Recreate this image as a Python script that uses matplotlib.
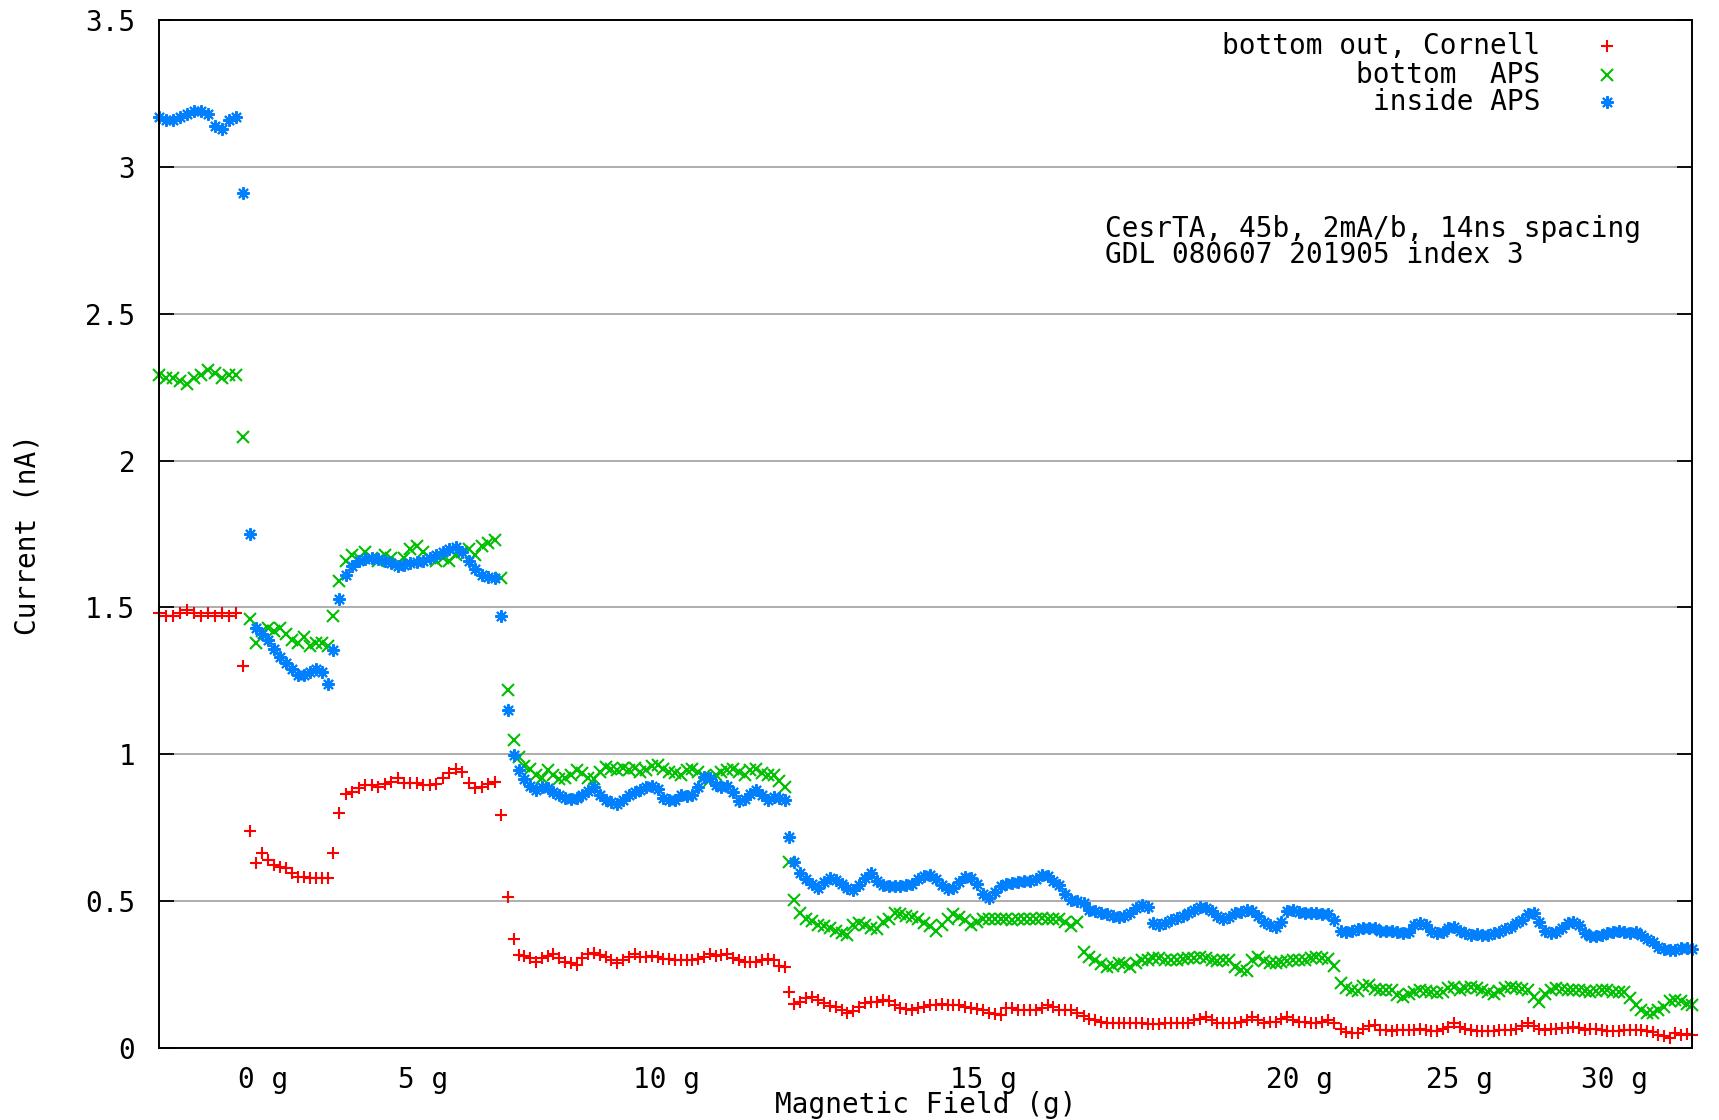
"""
CesrTA RFA currents vs magnetic field scan (gnuplot style remake)
"""

import matplotlib
matplotlib.use('Agg')
import matplotlib.pyplot as plt
import numpy as np

# scan segments, x in % of the scan (start, stop)
seg_start = [0.0, 5.94, 11.34, 23.45, 41.06, 60.30, 77.06]
seg_stop = [5.51, 11.02, 23.15, 40.84, 59.87, 76.62, 100.0]

# bottom out, Cornell
red = [
    [1.48, 1.47, 1.47, 1.48, 1.49, 1.48, 1.47, 1.48, 1.47, 1.48, 1.47, 1.48, 1.30],
    [0.74, 0.63, 0.665, 0.64, 0.623, 0.617, 0.612, 0.595, 0.583, 0.581, 0.578, 0.578, 0.578, 0.578],
    [0.663, 0.80, 0.864, 0.873, 0.884, 0.895, 0.895, 0.890, 0.899, 0.907, 0.918, 0.903, 0.901, 0.903,
     0.895, 0.895, 0.899, 0.918, 0.937, 0.949, 0.941, 0.901, 0.884, 0.890, 0.899, 0.907, 0.793, 0.515, 0.37],
    [0.317, 0.314, 0.306, 0.294, 0.306, 0.313, 0.320, 0.306, 0.294, 0.288, 0.283, 0.306, 0.320, 0.322,
     0.317, 0.309, 0.300, 0.291, 0.300, 0.311, 0.320, 0.311, 0.309, 0.313, 0.309, 0.302, 0.302, 0.300,
     0.300, 0.298, 0.300, 0.302, 0.311, 0.320, 0.313, 0.317, 0.320, 0.306, 0.300, 0.294, 0.294, 0.294,
     0.300, 0.302, 0.300, 0.280, 0.275],
    [0.19, 0.15, 0.158, 0.17, 0.172, 0.162, 0.152, 0.143, 0.138, 0.128, 0.12, 0.125, 0.14, 0.152,
     0.158, 0.158, 0.165, 0.16, 0.147, 0.137, 0.133, 0.13, 0.135, 0.14, 0.147, 0.147, 0.15, 0.148,
     0.147, 0.147, 0.141, 0.137, 0.133, 0.13, 0.12, 0.115, 0.112, 0.135, 0.135, 0.13, 0.13, 0.13,
     0.13, 0.135, 0.147, 0.14, 0.13, 0.13, 0.13, 0.12],
    [0.11, 0.10, 0.095, 0.09, 0.085, 0.084, 0.084, 0.084, 0.084, 0.086, 0.084, 0.08, 0.082, 0.082,
     0.085, 0.084, 0.086, 0.084, 0.086, 0.095, 0.10, 0.107, 0.095, 0.086, 0.084, 0.084, 0.084, 0.09,
     0.095, 0.107, 0.095, 0.084, 0.09, 0.09, 0.10, 0.107, 0.095, 0.09, 0.088, 0.086, 0.084, 0.09,
     0.095, 0.085],
    [0.065, 0.056, 0.05, 0.05, 0.065, 0.075, 0.078,
     0.062, 0.06, 0.058, 0.062, 0.062, 0.062, 0.062, 0.065, 0.06, 0.058, 0.058, 0.065, 0.073, 0.085,
     0.073, 0.065, 0.062, 0.058, 0.058, 0.058, 0.058, 0.062, 0.062, 0.062, 0.065, 0.075, 0.085, 0.075,
     0.065, 0.062, 0.065, 0.065, 0.068, 0.068, 0.073, 0.068, 0.062, 0.065, 0.065, 0.06, 0.058, 0.058,
     0.058, 0.06, 0.062, 0.062, 0.062, 0.058, 0.055, 0.045, 0.04, 0.035, 0.05, 0.045, 0.048, 0.045],
]

# bottom APS
green = [
    [2.29, 2.28, 2.28, 2.27, 2.26, 2.28, 2.29, 2.31, 2.30, 2.28, 2.29, 2.29, 2.08],
    [1.46, 1.38, 1.42, 1.43, 1.42, 1.43, 1.41, 1.39, 1.38, 1.40, 1.37, 1.38, 1.38, 1.37],
    [1.47, 1.59, 1.66, 1.68, 1.67, 1.69, 1.67, 1.66, 1.68, 1.67, 1.65, 1.67, 1.70, 1.71, 1.69,
     1.67, 1.66, 1.67, 1.66, 1.68, 1.69, 1.70, 1.68, 1.71, 1.72, 1.73, 1.60, 1.22, 1.05],
    [0.99, 0.96, 0.95, 0.93, 0.92, 0.946, 0.93, 0.915, 0.918, 0.93, 0.946, 0.935, 0.92, 0.915,
     0.94, 0.958, 0.95, 0.945, 0.955, 0.948, 0.952, 0.94, 0.945, 0.96, 0.963, 0.95, 0.94, 0.935,
     0.93, 0.945, 0.95, 0.94, 0.925, 0.913, 0.93, 0.94, 0.945, 0.95, 0.94, 0.93, 0.945, 0.95,
     0.935, 0.93, 0.93, 0.91, 0.89],
    [0.634, 0.504, 0.459, 0.44, 0.432, 0.42, 0.415, 0.408, 0.40, 0.392, 0.385, 0.42, 0.425, 0.42,
     0.41, 0.405, 0.43, 0.44, 0.459, 0.455, 0.45, 0.445, 0.44, 0.425, 0.415, 0.40, 0.42, 0.44,
     0.455, 0.445, 0.435, 0.42, 0.43, 0.44, 0.44, 0.44, 0.438, 0.44, 0.435, 0.44, 0.44, 0.44,
     0.44, 0.442, 0.44, 0.44, 0.44, 0.43, 0.415, 0.43],
    [0.328, 0.311, 0.30, 0.285, 0.277, 0.28, 0.29, 0.285, 0.277, 0.29, 0.30, 0.30, 0.305, 0.306,
     0.30, 0.30, 0.30, 0.302, 0.305, 0.308, 0.31, 0.305, 0.30, 0.295, 0.298, 0.30, 0.277, 0.265,
     0.262, 0.30, 0.31, 0.295, 0.29, 0.29, 0.292, 0.295, 0.298, 0.30, 0.30, 0.305, 0.31, 0.305,
     0.302, 0.28],
    [0.22, 0.205, 0.198, 0.195, 0.21, 0.215, 0.20,
     0.198, 0.198, 0.198, 0.18, 0.175, 0.185, 0.19, 0.198, 0.195, 0.192, 0.188, 0.19, 0.205, 0.209,
     0.198, 0.205, 0.209, 0.205, 0.198, 0.19, 0.185, 0.195, 0.205, 0.209, 0.205, 0.20, 0.198, 0.175,
     0.157, 0.185, 0.198, 0.205, 0.20, 0.198, 0.198, 0.198, 0.195, 0.192, 0.195, 0.198, 0.198, 0.192,
     0.19, 0.19, 0.17, 0.145, 0.13, 0.118, 0.12, 0.13, 0.141, 0.16, 0.165, 0.16, 0.15, 0.145],
]

# inside APS
blue = [
    [3.17, 3.16, 3.16, 3.17, 3.18, 3.19, 3.19, 3.18, 3.14, 3.13, 3.16, 3.17, 2.91],
    [1.75, 1.43, 1.41, 1.39, 1.36, 1.33, 1.31, 1.29, 1.27, 1.27, 1.28, 1.29, 1.28, 1.24],
    [1.355, 1.53, 1.61, 1.64, 1.66, 1.665, 1.67, 1.665, 1.66, 1.65, 1.64, 1.645, 1.65, 1.655,
     1.66, 1.67, 1.68, 1.69, 1.70, 1.705, 1.69, 1.66, 1.63, 1.61, 1.605, 1.60, 1.47, 1.15, 0.997],
    [0.946, 0.915, 0.893, 0.878, 0.89, 0.885, 0.873, 0.862, 0.852, 0.848, 0.850, 0.862, 0.875,
     0.888, 0.861, 0.845, 0.836, 0.832, 0.844, 0.86, 0.872, 0.878, 0.89, 0.893, 0.882, 0.852,
     0.844, 0.846, 0.861, 0.858, 0.862, 0.89, 0.924, 0.918, 0.895, 0.89, 0.893, 0.873, 0.84,
     0.848, 0.866, 0.878, 0.862, 0.846, 0.856, 0.852, 0.844],
    [0.72, 0.634, 0.595, 0.575, 0.558, 0.545, 0.565, 0.578, 0.572, 0.56, 0.545, 0.538, 0.555,
     0.58, 0.595, 0.57, 0.555, 0.55, 0.55, 0.552, 0.555, 0.56, 0.575, 0.585, 0.59, 0.575, 0.555,
     0.54, 0.545, 0.565, 0.583, 0.58, 0.56, 0.525, 0.51, 0.53, 0.55, 0.56, 0.563, 0.565, 0.57,
     0.57, 0.575, 0.589, 0.585, 0.57, 0.555, 0.525, 0.505, 0.50],
    [0.493, 0.47, 0.465, 0.46, 0.455, 0.45, 0.447, 0.45, 0.459, 0.475, 0.487, 0.48, 0.425, 0.42,
     0.425, 0.435, 0.442, 0.45, 0.459, 0.47, 0.48, 0.475, 0.465, 0.45, 0.44, 0.445, 0.459, 0.462,
     0.47, 0.465, 0.45, 0.43, 0.418, 0.413, 0.43, 0.465, 0.47, 0.462, 0.459, 0.459, 0.459, 0.455,
     0.455, 0.435],
    [0.40, 0.396, 0.40, 0.405, 0.41, 0.41, 0.41,
     0.40, 0.40, 0.398, 0.395, 0.39, 0.395, 0.42, 0.425, 0.42, 0.40, 0.39, 0.395, 0.41, 0.413,
     0.40, 0.39, 0.385, 0.388, 0.385, 0.385, 0.39, 0.395, 0.405, 0.413, 0.425, 0.435, 0.455, 0.459,
     0.43, 0.40, 0.39, 0.395, 0.41, 0.425, 0.428, 0.42, 0.39, 0.382, 0.38, 0.385, 0.39, 0.395,
     0.40, 0.395, 0.39, 0.395, 0.385, 0.37, 0.36, 0.345, 0.338, 0.334, 0.335, 0.34, 0.34, 0.338],
]

field_pos = [6.8, 17.2, 33.1, 53.8, 74.4, 84.8, 94.9]
field_labels = ['0 g', '5 g', '10 g', '15 g', '20 g', '25 g', '30 g']

names = ['bottom out, Cornell', 'bottom  APS', 'inside APS']
colors = ['#ff0000', '#00c000', '#0080ff']
markers = ['+', 'x', (8, 2, 0)]

FONT = 'DejaVu Sans Mono'
FS = 20
MS = 9
MEW = 1.5


def scan_x():
    xs = []
    for a, b, vals in zip(seg_start, seg_stop, red):
        xs.append(np.linspace(a, b, len(vals)))
    return np.concatenate(xs)


def main():
    plt.rcParams['font.family'] = FONT
    fig = plt.figure(figsize=(17.19, 11.2), dpi=100)
    ax = fig.add_axes([0.0925, 0.0643, 0.892, 0.9177])

    x = scan_x()
    series = [np.concatenate(red), np.concatenate(green), np.concatenate(blue)]

    for y, c, m in zip(series, colors, markers):
        ax.plot(x, y, linestyle='none', marker=m, color=c, markersize=MS,
                markeredgewidth=MEW, clip_on=False, zorder=3)

    ax.set_xlim(0, 100)
    ax.set_ylim(0, 3.5)
    yt = np.arange(0, 3.51, 0.5)
    ax.set_yticks(yt)
    ax.set_yticklabels(['0', '0.5', '1', '1.5', '2', '2.5', '3', '3.5'])
    ax.set_xticks(field_pos)
    ax.set_xticklabels(field_labels)
    ax.tick_params(axis='y', direction='in', length=11, width=1.3, right=True,
                   labelsize=FS, pad=17)
    ax.tick_params(axis='x', length=0, labelsize=FS, pad=13)
    ax.grid(axis='y', color='#a0a0a0', linewidth=1.2)
    ax.set_axisbelow(True)
    for s in ax.spines.values():
        s.set_linewidth(1.4)
        s.set_zorder(4)

    ax.set_xlabel('Magnetic Field (g)', fontsize=FS)
    ax.xaxis.set_label_coords(0.5, -0.042)
    ax.set_ylabel('Current (nA)', fontsize=FS, va='center')
    ax.yaxis.set_label_coords(-0.086, 0.5)

    # key, gnuplot style: right-aligned text, sample to the right
    key_y = [0.9747, 0.947, 0.920]
    for name, c, m, ky in zip(names, colors, markers, key_y):
        ax.text(0.9009, ky, name, transform=ax.transAxes, ha='right', va='center', fontsize=FS)
        ax.plot([0.9446], [ky], transform=ax.transAxes, linestyle='none', marker=m, color=c,
                markersize=MS, markeredgewidth=MEW, clip_on=False)

    ax.text(61.7, 2.79, 'CesrTA, 45b, 2mA/b, 14ns spacing', ha='left', va='center', fontsize=FS)
    ax.text(61.7, 2.70, 'GDL 080607 201905 index 3', ha='left', va='center', fontsize=FS)

    fig.savefig('out.png', dpi=100)


if __name__ == "__main__":
    main()
